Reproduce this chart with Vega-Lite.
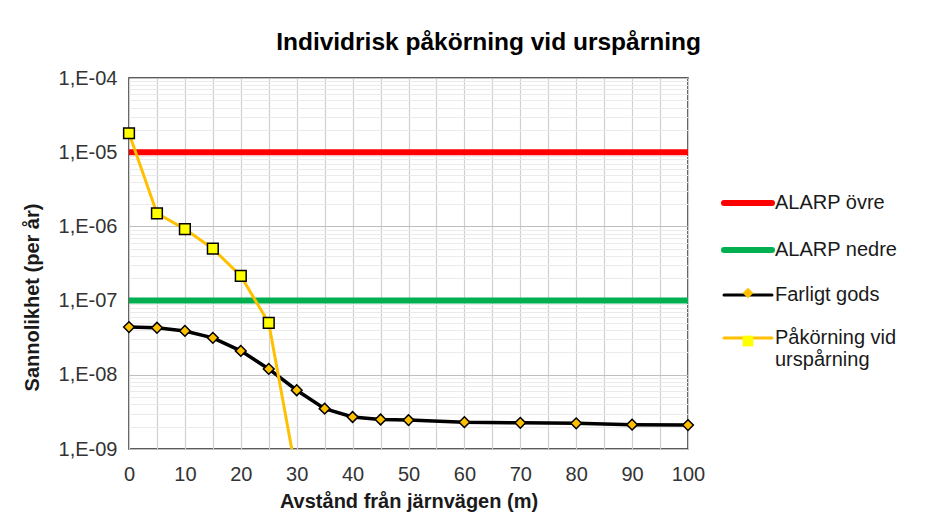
{
  "$schema": "https://vega.github.io/schema/vega-lite/v6.json",
  "width": 559,
  "height": 371,
  "autosize": {"type": "none"},
  "padding": {"left": 129, "top": 78, "right": 251, "bottom": 75},
  "background": "white",
  "config": {
    "font": "Liberation Sans",
    "view": {"stroke": "#262626", "strokeWidth": 1.5}
  },
  "title": {
    "text": "Individrisk påkörning vid urspårning",
    "font": "Liberation Sans",
    "fontSize": 24.5,
    "fontWeight": "bold",
    "color": "#000000",
    "anchor": "middle",
    "frame": "group",
    "dx": 80,
    "dy": 32,
    "offset": 26,
    "baseline": "alphabetic"
  },
  "data": {
    "values": [
      {"serie": "ALARP övre", "x": 0, "y": 1e-5},
      {"serie": "ALARP övre", "x": 100, "y": 1e-5},
      {"serie": "ALARP nedre", "x": 0, "y": 1e-7},
      {"serie": "ALARP nedre", "x": 100, "y": 1e-7},
      {"serie": "Farligt gods", "x": 0, "y": 4.4e-8},
      {"serie": "Farligt gods", "x": 5, "y": 4.3e-8},
      {"serie": "Farligt gods", "x": 10, "y": 3.9e-8},
      {"serie": "Farligt gods", "x": 15, "y": 3.15e-8},
      {"serie": "Farligt gods", "x": 20, "y": 2.1e-8},
      {"serie": "Farligt gods", "x": 25, "y": 1.2e-8},
      {"serie": "Farligt gods", "x": 30, "y": 6.2e-9},
      {"serie": "Farligt gods", "x": 35, "y": 3.5e-9},
      {"serie": "Farligt gods", "x": 40, "y": 2.7e-9},
      {"serie": "Farligt gods", "x": 45, "y": 2.5e-9},
      {"serie": "Farligt gods", "x": 50, "y": 2.45e-9},
      {"serie": "Farligt gods", "x": 60, "y": 2.3e-9},
      {"serie": "Farligt gods", "x": 70, "y": 2.25e-9},
      {"serie": "Farligt gods", "x": 80, "y": 2.22e-9},
      {"serie": "Farligt gods", "x": 90, "y": 2.13e-9},
      {"serie": "Farligt gods", "x": 100, "y": 2.1e-9},
      {"serie": "Påkörning vid urspårning", "x": 0, "y": 1.8e-5},
      {"serie": "Påkörning vid urspårning", "x": 5, "y": 1.5e-6},
      {"serie": "Påkörning vid urspårning", "x": 10, "y": 9.2e-7},
      {"serie": "Påkörning vid urspårning", "x": 15, "y": 5e-7},
      {"serie": "Påkörning vid urspårning", "x": 20, "y": 2.15e-7},
      {"serie": "Påkörning vid urspårning", "x": 25, "y": 5e-8},
      {"serie": "Påkörning vid urspårning", "x": 30, "y": 4.3e-10}
    ]
  },
  "encoding": {
    "x": {
      "field": "x",
      "type": "quantitative",
      "scale": {"domain": [0, 100], "nice": false},
      "axis": {
        "title": "Avstånd från järnvägen (m)",
        "values": [0, 5, 10, 15, 20, 25, 30, 35, 40, 45, 50, 55, 60, 65, 70, 75, 80, 85, 90, 95, 100],
        "labelExpr": "datum.value % 10 === 0 ? datum.label : ''",
        "grid": true,
        "gridColor": "#d0d0d0",
        "gridWidth": 1.2,
        "domain": false,
        "ticks": false,
        "tickSize": 0,
        "labelPadding": 15,
        "labelFont": "Liberation Sans",
        "labelFontSize": 20,
        "labelColor": "#333333",
        "labelOverlap": false,
        "labelFlush": false,
        "labelBound": false,
        "titleFont": "Liberation Sans",
        "titleFontSize": 20,
        "titleFontWeight": "bold",
        "titleColor": "#1a1a1a",
        "titleBaseline": "alphabetic",
        "titleY": 58
      }
    },
    "y": {
      "field": "y",
      "type": "quantitative",
      "scale": {"type": "log", "domain": [1e-9, 1e-4], "nice": false},
      "axis": {
        "title": "Sannolikhet (per år)",
        "values": [
          1e-9, 2e-9, 3e-9, 4e-9, 5e-9, 6e-9, 7e-9, 8e-9, 9e-9,
          1e-8, 2e-8, 3e-8, 4e-8, 5e-8, 6e-8, 7e-8, 8e-8, 9e-8,
          1e-7, 2e-7, 3e-7, 4e-7, 5e-7, 6e-7, 7e-7, 8e-7, 9e-7,
          1e-6, 2e-6, 3e-6, 4e-6, 5e-6, 6e-6, 7e-6, 8e-6, 9e-6,
          1e-5, 2e-5, 3e-5, 4e-5, 5e-5, 6e-5, 7e-5, 8e-5, 9e-5,
          1e-4
        ],
        "labelExpr": "abs(log(datum.value)/LN10 - round(log(datum.value)/LN10)) < 0.01 ? '1,E-' + format(-round(log(datum.value)/LN10), '02d') : ''",
        "grid": true,
        "gridColor": {
          "condition": {"test": "abs(log(datum.value)/LN10 - round(log(datum.value)/LN10)) < 0.01", "value": "#bfbfbf"},
          "value": "#ebebeb"
        },
        "gridWidth": 1,
        "domain": false,
        "ticks": false,
        "tickSize": 0,
        "labelPadding": 12,
        "labelFont": "Liberation Sans",
        "labelFontSize": 20,
        "labelColor": "#333333",
        "labelOverlap": false,
        "labelBound": false,
        "labelFlush": false,
        "titleFont": "Liberation Sans",
        "titleFontSize": 20,
        "titleFontWeight": "bold",
        "titleColor": "#1a1a1a",
        "titleAngle": -90,
        "titleAlign": "center",
        "titleBaseline": "middle",
        "titleX": -97,
        "titleY": 219
      }
    }
  },
  "layer": [
    {
      "transform": [{"filter": "datum.serie === 'ALARP övre' || datum.serie === 'ALARP nedre'"}],
      "mark": {"type": "line", "strokeWidth": 6, "clip": true},
      "encoding": {
        "color": {
          "field": "serie",
          "type": "nominal",
          "scale": {
            "domain": ["ALARP övre", "ALARP nedre", "Farligt gods", "Påkörning vid urspårning"],
            "range": ["#ff0000", "#00b050", "#000000", "#ffc000"]
          },
          "legend": {
            "orient": "none",
            "legendX": 609,
            "legendY": 115,
            "title": null,
            "padding": 0,
            "symbolType": "stroke",
            "symbolSize": 2304,
            "symbolStrokeWidth": 3,
            "labelFont": "Liberation Sans",
            "labelFontSize": 20,
            "labelColor": "#1a1a1a",
            "labelLimit": 300,
            "labelOffset": 17,
            "labelBaseline": "top",
            "labelLineHeight": 24,
            "labelExpr": "datum.value === 'Påkörning vid urspårning' ? ['Påkörning vid', 'urspårning'] : datum.label",
            "rowPadding": 23,
            "zindex": 0,
            "encode": {
              "symbols": {
                "update": {
                  "strokeWidth": {"signal": "datum.value === 'ALARP övre' || datum.value === 'ALARP nedre' ? 6 : 3"},
                  "strokeCap": {"value": "round"}
                }
              },
              "labels": {"update": {"dy": {"value": -10}}}
            }
          }
        }
      }
    },
    {
      "transform": [{"filter": "datum.serie === 'Farligt gods'"}],
      "mark": {"type": "line", "strokeWidth": 3.5, "clip": true},
      "encoding": {
        "color": {"field": "serie", "type": "nominal"}
      }
    },
    {
      "transform": [{"filter": "datum.serie === 'Påkörning vid urspårning'"}],
      "mark": {"type": "line", "strokeWidth": 3, "clip": true},
      "encoding": {
        "color": {"field": "serie", "type": "nominal"}
      }
    },
    {
      "transform": [
        {"filter": "(datum.serie === 'Farligt gods' || datum.serie === 'Påkörning vid urspårning') && datum.y >= 1e-9"}
      ],
      "mark": {"type": "point", "filled": true, "size": 115, "stroke": "#000000", "strokeWidth": 1.5, "opacity": 1},
      "encoding": {
        "fill": {
          "field": "serie",
          "type": "nominal",
          "scale": {"domain": ["Farligt gods", "Påkörning vid urspårning"], "range": ["#ffc000", "#ffff00"]},
          "legend": {
            "orient": "none",
            "legendX": 609,
            "legendY": 205,
            "title": null,
            "padding": 0,
            "symbolSize": 115,
            "symbolStrokeColor": "#000000",
            "symbolStrokeWidth": 1.5,
            "labelFont": "Liberation Sans",
            "labelFontSize": 20,
            "labelLimit": 300,
            "labelBaseline": "top",
            "labelExpr": "''",
            "rowPadding": 18,
            "zindex": 1,
            "encode": {
              "symbols": {
                "stroke": {"value": "#000000"},
                "strokeWidth": {"value": 1.5},
                "opacity": {"value": 1}
              }
            }
          }
        },
        "shape": {
          "field": "serie",
          "type": "nominal",
          "scale": {"domain": ["Farligt gods", "Påkörning vid urspårning"], "range": ["diamond", "square"]},
          "legend": {
            "orient": "none",
            "legendX": 609,
            "legendY": 205,
            "title": null,
            "padding": 0,
            "symbolSize": 115,
            "symbolStrokeColor": "#000000",
            "symbolStrokeWidth": 1.5,
            "labelFont": "Liberation Sans",
            "labelFontSize": 20,
            "labelLimit": 300,
            "labelBaseline": "top",
            "labelExpr": "''",
            "rowPadding": 18,
            "zindex": 1,
            "encode": {
              "symbols": {
                "stroke": {"value": "#000000"},
                "strokeWidth": {"value": 1.5},
                "opacity": {"value": 1}
              }
            }
          }
        }
      }
    }
  ]
}
